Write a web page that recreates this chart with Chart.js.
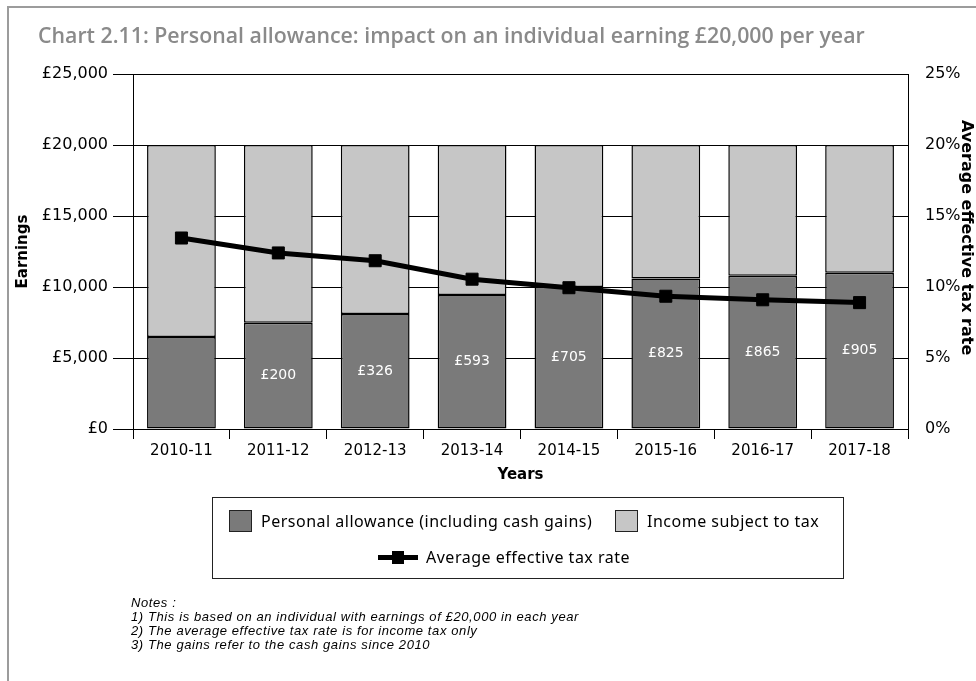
<!DOCTYPE html>
<html>
<head>
<meta charset="utf-8">
<script src="https://cdn.jsdelivr.net/npm/chart.js@4.4.1/dist/chart.umd.min.js"></script>
<style>
  html, body { margin: 0; padding: 0; background: #fff; }
  body { width: 976px; height: 681px; position: relative; overflow: hidden; }
  #frame { position: absolute; left: 7px; top: 6px; width: 1000px; height: 700px;
           border-left: 2px solid #9c9c9c; border-top: 2px solid #9c9c9c; }
  #chart { position: absolute; left: 0; top: 0; }
  #title { position: absolute; left: 38px; top: 20px; font-family: "Open Sans", sans-serif;
           font-weight: 600; font-size: 21.3px; color: #8a8a8a; white-space: nowrap; }
  #legend { position: absolute; left: 212px; top: 497px; width: 630px; height: 80px;
            border: 1px solid #222; font-family: "Noto Sans", sans-serif; font-size: 16px;
            letter-spacing: 0.5px; color: #000; }
  .item { position: absolute; display: flex; align-items: center; white-space: nowrap; }
  .swatch { width: 21px; height: 20px; border: 1px solid #222; margin-right: 9px; }
  .lineKey { position: relative; width: 40px; height: 5px; background: #000; margin-right: 8px; }
  .lineKey span { position: absolute; left: 14px; top: -4px; width: 12px; height: 13px; background: #000; }
  #notes { position: absolute; left: 131px; top: 596px; font-family: "Liberation Sans", sans-serif;
           font-style: italic; font-size: 13px; letter-spacing: 0.6px; line-height: 14px; color: #000; }
</style>
</head>
<body>
<div id="frame"></div>
<canvas id="chart" width="976" height="681"></canvas>
<div id="title">Chart 2.11: Personal allowance: impact on an individual earning £20,000 per year</div>
<div id="legend"></div>
<div id="notes">
  <div>Notes :</div>
  <div>1) This is based on an individual with earnings of £20,000 in each year</div>
  <div>2) The average effective tax rate is for income tax only</div>
  <div>3) The gains refer to the cash gains since 2010</div>
</div>
<script>
// tax years on the x axis
const years = ['2010-11', '2011-12', '2012-13', '2013-14', '2014-15', '2015-16', '2016-17', '2017-18'];

// personal allowance and the rest of the £20,000 that is taxed
const allowance = [6475, 7475, 8105, 9440, 10000, 10600, 10800, 11000];
const taxedIncome = [13525, 12525, 11895, 10560, 10000, 9400, 9200, 9000];

// average effective tax rate, %
const taxRate = [13.45, 12.4, 11.85, 10.55, 9.95, 9.35, 9.1, 8.9];

// cash gains since 2010, written inside the allowance bars
const cashGains = [null, 200, 326, 593, 705, 825, 865, 905];

// axis tick labels
const earningsTicks = ['£0', '£5,000', '£10,000', '£15,000', '£20,000', '£25,000'];
const rateTicks = ['0%', '5%', '10%', '15%', '20%', '25%'];

const seriesNames = ['Personal allowance (including cash gains)', 'Income subject to tax', 'Average effective tax rate'];
const darkGrey = '#7a7a7a';
const lightGrey = '#c6c6c6';

Chart.defaults.font.family = '"DejaVu Sans", sans-serif';
Chart.defaults.color = '#000';

// white "£nnn" labels in the middle of the allowance bars
const gainLabels = {
  id: 'gainLabels',
  afterDatasetsDraw(chart) {
    const ctx = chart.ctx;
    const meta = chart.getDatasetMeta(0);
    ctx.save();
    ctx.fillStyle = '#fff';
    ctx.font = '14px "DejaVu Sans"';
    ctx.textAlign = 'center';
    ctx.textBaseline = 'middle';
    meta.data.forEach((bar, i) => {
      if (cashGains[i] == null) return;
      ctx.fillText('£' + cashGains[i], bar.x, (bar.y + bar.base) / 2);
    });
    ctx.restore();
  }
};

const ctx = document.getElementById('chart');

new Chart(ctx, {
  type: 'bar',
  data: {
    labels: years,
    datasets: [
      {
        label: seriesNames[0],
        data: allowance,
        backgroundColor: darkGrey,
        borderColor: '#000',
        borderWidth: 1.5,
        borderSkipped: false,
        yAxisID: 'y',
        order: 1
      },
      {
        label: seriesNames[1],
        data: taxedIncome,
        backgroundColor: lightGrey,
        borderColor: '#000',
        borderWidth: 1.5,
        borderSkipped: false,
        yAxisID: 'y',
        order: 2
      },
      {
        type: 'line',
        label: seriesNames[2],
        data: taxRate,
        borderColor: '#000',
        borderWidth: 5,
        tension: 0,
        pointStyle: 'rect',
        pointRadius: 8.5,
        pointBackgroundColor: '#000',
        pointBorderColor: '#000',
        pointBorderWidth: 1,
        yAxisID: 'y2',
        order: 0
      }
    ]
  },
  options: {
    responsive: false,
    animation: false,
    devicePixelRatio: 1,
    layout: { padding: { top: 74, left: 0, right: 0, bottom: 196 } },
    datasets: {
      bar: { barPercentage: 0.71, categoryPercentage: 1 }
    },
    plugins: {
      legend: { display: false },
      tooltip: { enabled: false }
    },
    scales: {
      x: {
        stacked: true,
        afterFit: (s) => { s.height = 56; },
        grid: { display: true, drawOnChartArea: false, offset: true, color: '#000', tickLength: 10 },
        border: { color: '#000', width: 1 },
        ticks: { font: { size: 15 }, padding: 3, maxRotation: 0 },
        title: { display: true, text: 'Years', font: { size: 15, weight: 'bold' }, padding: { top: 0, bottom: 1 } }
      },
      y: {
        stacked: true,
        position: 'left',
        min: 0,
        max: 25000,
        afterFit: (s) => { s.width = 133; },
        afterBuildTicks: (s) => { s.ticks = earningsTicks.map((t, i) => ({ value: i * 5000 })); },
        grid: { color: '#000', tickLength: 20 },
        border: { color: '#000', width: 1 },
        ticks: { font: { size: 16 }, padding: 5, callback: (v, i) => earningsTicks[i] },
        title: { display: true, text: 'Earnings', font: { size: 15, weight: 'bold' }, padding: { top: 14, bottom: 0 } }
      },
      y2: {
        position: 'right',
        min: 0,
        max: 25,
        afterFit: (s) => { s.width = 68; },
        afterBuildTicks: (s) => { s.ticks = rateTicks.map((t, i) => ({ value: i * 5 })); },
        grid: { display: false },
        border: { display: true, color: '#000', width: 1 },
        ticks: { font: { size: 16 }, padding: 9, callback: (v, i) => rateTicks[i] },
        // trailing spaces lift the rotated title a little above the axis centre
        title: { display: true, text: 'Average effective tax rate     ', font: { size: 16, weight: 'bold' }, padding: { top: 0, bottom: 0 } }
      }
    }
  },
  plugins: [gainLabels]
});

// legend box below the chart
const legend = document.getElementById('legend');
legend.innerHTML =
  '<div class="item" style="left:16px;top:12px"><div class="swatch" style="background:' + darkGrey + '"></div>' + seriesNames[0] + '</div>' +
  '<div class="item" style="left:402px;top:12px"><div class="swatch" style="background:' + lightGrey + '"></div>' + seriesNames[1] + '</div>' +
  '<div class="item" style="left:165px;top:48px"><div class="lineKey"><span></span></div>' + seriesNames[2] + '</div>';
</script>
</body>
</html>
